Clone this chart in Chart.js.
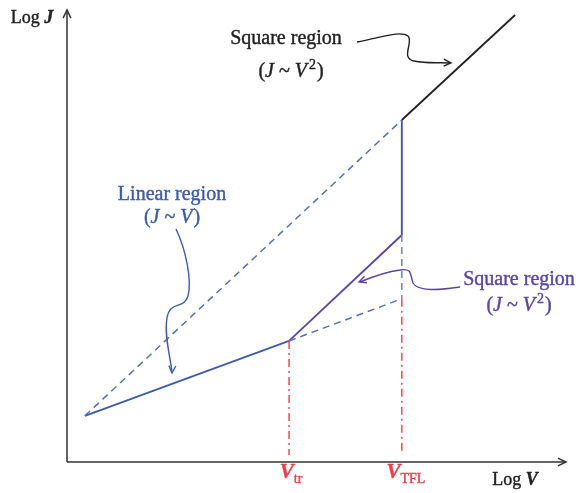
<!DOCTYPE html>
<html>
<head>
<meta charset="utf-8">
<script src="https://cdn.jsdelivr.net/npm/chart.js@4/dist/chart.umd.min.js"></script>
<style>
  html, body { margin: 0; padding: 0; background: #fff; }
  #wrap { width: 579px; height: 493px; }
</style>
</head>
<body>
<div id="wrap"><canvas id="jvChart"></canvas></div>
<script>
// Log J vs Log V segments (arbitrary log units)
const ohmicV = [0.36, 4.45];
const ohmicJ = [0.92, 2.41];
const ohmicExtV = [4.45, 6.71];
const ohmicExtJ = [2.41, 3.25];
const trapV = [4.45, 6.71];
const trapJ = [2.41, 4.52];
const tflV = [6.71, 6.71];
const tflJ = [4.52, 6.81];
const trapFreeV = [6.71, 8.98];
const trapFreeJ = [6.81, 8.90];
const trapFreeExtV = [0.36, 6.71];
const trapFreeExtJ = [0.92, 6.81];

// Transition voltages
const vTr = 4.45;
const vTfl = 6.71;
const guideBottom = 0.14;

const blue = '#3d5ca8';
const purple = '#5a45a0';
const red = '#e8404c';

function seg(xs, ys) {
    return xs.map((x, i) => ({ x: x, y: ys[i] }));
}

function line(xs, ys, color, dash, width) {
    return {
        data: seg(xs, ys),
        borderColor: color,
        borderWidth: width || 1.7,
        borderDash: dash || [],
        pointRadius: 0,
        showLine: true,
        fill: false,
        tension: 0
    };
}

const datasets = [
    line(trapFreeExtV, trapFreeExtJ, '#5572b0', [7, 5], 1.5),
    line(ohmicExtV, ohmicExtJ, '#5572b0', [7, 5], 1.5),
    line([vTfl, vTfl], [trapJ[1], ohmicExtJ[1]], '#6d87b8', [7, 5], 1.5),
    line([vTr, vTr], [ohmicJ[1], guideBottom], red, [8, 4, 2, 4], 1.4),
    line([vTfl, vTfl], [ohmicExtJ[1], guideBottom], red, [8, 4, 2, 4], 1.4),
    line(ohmicV, ohmicJ, blue, [], 1.8),
    line(trapV, trapJ, purple, [], 1.8),
    line(tflV, tflJ, '#4a55a0', [], 1.9),
    line(trapFreeV, trapFreeJ, '#222', [], 1.8)
];

// Draw arrowhead at (x, y) pointing along angle a
function arrowHead(ctx, x, y, a, size) {
    ctx.beginPath();
    ctx.moveTo(x - size * Math.cos(a - 0.45), y - size * Math.sin(a - 0.45));
    ctx.lineTo(x, y);
    ctx.lineTo(x - size * Math.cos(a + 0.45), y - size * Math.sin(a + 0.45));
    ctx.stroke();
}

// Mixed-font text run centred on cx; each part is [text, font, dy, dx]
function richText(ctx, parts, cx, y) {
    let total = 0;
    parts.forEach(p => { ctx.font = p[1]; total += ctx.measureText(p[0]).width + (p[3] || 0); });
    let x = cx - total / 2;
    ctx.textAlign = 'left';
    ctx.lineWidth = 0.4;
    parts.forEach(p => {
        ctx.font = p[1];
        x += p[3] || 0;
        ctx.fillText(p[0], x, y + (p[2] || 0));
        ctx.strokeText(p[0], x, y + (p[2] || 0));
        x += ctx.measureText(p[0]).width;
    });
}

const serif = '"Liberation Serif", "DejaVu Serif", serif';
const fs = '20px ' + serif;
const fsi = 'italic 20px ' + serif;
const fsup = '14px ' + serif;

function squareLaw(ctx, cx, y) {
    richText(ctx, [['(', fs], ['J', fsi], [' ~ ', fs], ['V', fsi], ['2', fsup, -8, 2], [')', fs, 0, 1]], cx, y);
}

const decorations = {
    id: 'decorations',
    afterDraw(chart) {
        const ctx = chart.ctx;
        const xs = chart.scales.x;
        const ys = chart.scales.y;
        const x0 = xs.getPixelForValue(0);
        const y0 = ys.getPixelForValue(0);
        const xEnd = xs.getPixelForValue(xs.max);
        const yEnd = ys.getPixelForValue(ys.max);
        ctx.save();

        // axes with arrows
        ctx.strokeStyle = '#333';
        ctx.lineWidth = 1.5;
        ctx.beginPath();
        ctx.moveTo(x0, y0);
        ctx.lineTo(x0, yEnd);
        ctx.moveTo(x0, y0);
        ctx.lineTo(xEnd, y0);
        ctx.stroke();
        arrowHead(ctx, x0, yEnd, -Math.PI / 2, 9);
        arrowHead(ctx, xEnd, y0, 0, 9);

        ctx.textBaseline = 'alphabetic';
        ctx.fillStyle = '#222';
        ctx.strokeStyle = '#222';
        richText(ctx, [['Log ', '18px ' + serif], ['J', 'italic bold 18px ' + serif]], 32, 23);
        richText(ctx, [['Log ', '18px ' + serif], ['V', 'italic bold 18px ' + serif]], 515, 485);

        // transition voltage labels
        ctx.fillStyle = red;
        ctx.strokeStyle = red;
        const trX = xs.getPixelForValue(vTr);
        const tflX = xs.getPixelForValue(vTfl);
        richText(ctx, [['V', 'italic bold 21px ' + serif], ['tr', '14px ' + serif, 5]], trX + 2, 478);
        richText(ctx, [['V', 'italic bold 21px ' + serif], ['TFL', '14px ' + serif, 5]], tflX + 4, 478);

        // top annotation
        ctx.fillStyle = '#222';
        ctx.strokeStyle = '#222';
        richText(ctx, [['Square region', fs]], 286, 44);
        squareLaw(ctx, 291, 77);
        ctx.lineWidth = 1.4;
        ctx.beginPath();
        ctx.moveTo(357, 42);
        ctx.bezierCurveTo(380, 38, 400, 30, 408, 36);
        ctx.bezierCurveTo(414, 42, 400, 58, 414, 61);
        ctx.bezierCurveTo(428, 64, 440, 62, 450, 63);
        ctx.stroke();
        arrowHead(ctx, 451, 63, 0.05, 8);

        // linear annotation
        ctx.fillStyle = blue;
        ctx.strokeStyle = blue;
        richText(ctx, [['Linear region', fs]], 172, 200);
        richText(ctx, [['(', fs], ['J', fsi], [' ~ ', fs], ['V', fsi], [')', fs, 0, 1]], 172, 223);
        ctx.lineWidth = 1.4;
        ctx.beginPath();
        ctx.moveTo(176, 229);
        ctx.bezierCurveTo(186, 250, 192, 280, 188, 296);
        ctx.bezierCurveTo(184, 310, 170, 300, 167, 318);
        ctx.bezierCurveTo(164, 335, 170, 355, 172, 372);
        ctx.stroke();
        arrowHead(ctx, 172, 373, Math.PI / 2 + 0.05, 8);

        // right square annotation
        ctx.fillStyle = purple;
        ctx.strokeStyle = purple;
        richText(ctx, [['Square region', fs]], 519, 285);
        squareLaw(ctx, 519, 311);
        ctx.lineWidth = 1.4;
        ctx.beginPath();
        ctx.moveTo(460, 287);
        ctx.bezierCurveTo(440, 290, 418, 292, 413, 283);
        ctx.bezierCurveTo(410, 274, 412, 268, 400, 270);
        ctx.bezierCurveTo(385, 272, 372, 277, 360, 282);
        ctx.stroke();
        arrowHead(ctx, 359, 282, Math.PI - 0.35, 8);

        ctx.restore();
    }
};

new Chart(document.getElementById('jvChart').getContext('2d'), {
    type: 'scatter',
    data: { datasets: datasets },
    options: {
        responsive: true,
        maintainAspectRatio: false,
        animation: false,
        layout: { padding: { left: 67, right: 13, top: 10, bottom: 31 } },
        scales: {
            x: { type: 'linear', min: 0, max: 10, display: false },
            y: { type: 'linear', min: 0, max: 9, display: false }
        },
        plugins: {
            legend: { display: false },
            tooltip: { enabled: false }
        }
    },
    plugins: [decorations]
});
</script>
</body>
</html>
